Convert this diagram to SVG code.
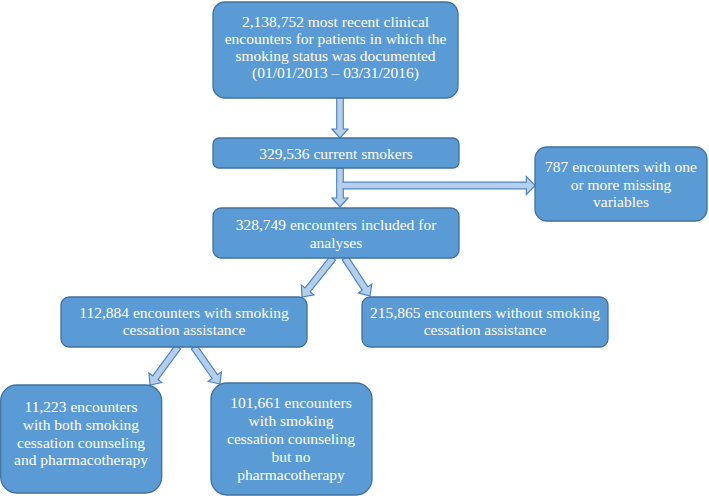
<svg xmlns="http://www.w3.org/2000/svg" width="709" height="496" viewBox="0 0 709 496">
<style>
.box{fill:#5b9bd5;stroke:#41719c;stroke-width:1.3}
.t{font-family:'Liberation Serif','Times New Roman',serif;font-size:15.5px;fill:#ffffff;text-anchor:middle}
.arr{fill:#b4cfec;stroke:#4f86c2;stroke-width:1.2;stroke-linejoin:miter}
</style>
<rect width="709" height="496" fill="#ffffff"/>
<g id="connectors">
<path class="arr" transform="translate(340,98) rotate(90)" d="M0,-3.3 H31 V-8 L40,0 L31,8 V3.3 H0 Z"/>
<path class="arr" transform="translate(340,168) rotate(90)" d="M0,-3.3 H30 V-8 L39,0 L30,8 V3.3 H0 Z"/>
<path class="arr" transform="translate(343.3,185.5)" d="M0,-3.3 H183 V-9 L192,0 L183,9 V3.3 H0 Z"/>
<rect x="337.3" y="182.8" width="6.8" height="5.4" fill="#b4cfec"/>
<path class="arr" transform="translate(333,258) rotate(128.5)" d="M0,-3.3 H40.8 V-8 L49.8,0 L40.8,8 V3.3 H0 Z"/>
<path class="arr" transform="translate(345,258) rotate(56.7)" d="M0,-3.3 H36.5 V-8 L45.5,0 L36.5,8 V3.3 H0 Z"/>
<path class="arr" transform="translate(178,347) rotate(126.4)" d="M0,-3.3 H38.2 V-8 L47.2,0 L38.2,8 V3.3 H0 Z"/>
<path class="arr" transform="translate(194,347) rotate(54.9)" d="M0,-3.3 H36.2 V-8 L45.2,0 L36.2,8 V3.3 H0 Z"/>
</g>
<g id="n1">
<rect class="box" x="213" y="2" width="245" height="96" rx="12"/>
<text class="t" x="335.5" y="27">2,138,752 most recent clinical</text>
<text class="t" x="335.5" y="44">encounters for patients in which the</text>
<text class="t" x="335.5" y="61">smoking status was documented</text>
<text class="t" x="335.5" y="78">(01/01/2013 – 03/31/2016)</text>
</g>
<g id="n2">
<rect class="box" x="213" y="138" width="246" height="30" rx="6"/>
<text class="t" x="336" y="158.5">329,536 current smokers</text>
</g>
<g id="n3">
<rect class="box" x="213" y="208" width="246" height="50" rx="8"/>
<text class="t" x="336" y="230">328,749 encounters included for</text>
<text class="t" x="336" y="248">analyses</text>
</g>
<g id="n4">
<rect class="box" x="535" y="147" width="172" height="74" rx="12"/>
<text class="t" x="621" y="172">787 encounters with one</text>
<text class="t" x="621" y="190">or more missing</text>
<text class="t" x="621" y="207">variables</text>
</g>
<g id="n5">
<rect class="box" x="61" y="297" width="246" height="50" rx="8"/>
<text class="t" x="184" y="318">112,884 encounters with smoking</text>
<text class="t" x="184" y="335">cessation assistance</text>
</g>
<g id="n6">
<rect class="box" x="362" y="297" width="246" height="50" rx="8"/>
<text class="t" x="485" y="318">215,865 encounters without smoking</text>
<text class="t" x="485" y="335">cessation assistance</text>
</g>
<g id="n7">
<rect class="box" x="0.7" y="385" width="161" height="108" rx="16"/>
<text class="t" x="81" y="412">11,223 encounters</text>
<text class="t" x="81" y="430">with both smoking</text>
<text class="t" x="81" y="448">cessation counseling</text>
<text class="t" x="81" y="465">and pharmacotherapy</text>
</g>
<g id="n8">
<rect class="box" x="211" y="383" width="161" height="112" rx="16"/>
<text class="t" x="291" y="408">101,661 encounters</text>
<text class="t" x="291" y="426">with smoking</text>
<text class="t" x="291" y="444">cessation counseling</text>
<text class="t" x="291" y="462">but no</text>
<text class="t" x="291" y="480">pharmacotherapy</text>
</g>
</svg>
